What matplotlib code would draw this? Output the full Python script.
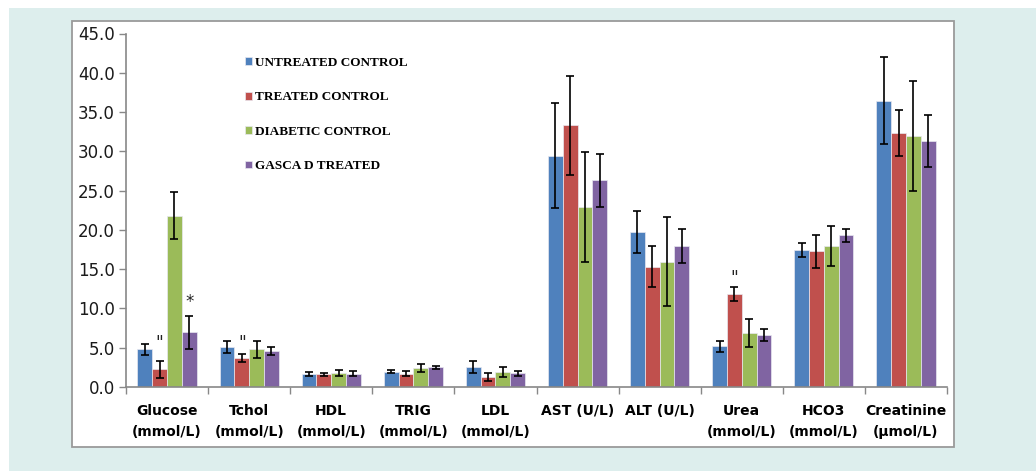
import numpy as np
import matplotlib.pyplot as plt
from matplotlib.patches import Rectangle

categories = ['Glucose\n(mmol/L)', 'Tchol\n(mmol/L)', 'HDL\n(mmol/L)', 'TRIG\n(mmol/L)',
              'LDL\n(mmol/L)', 'AST (U/L)', 'ALT (U/L)', 'Urea\n(mmol/L)',
              'HCO3\n(mmol/L)', 'Creatinine\n(µmol/L)']
series = ['UNTREATED CONTROL', 'TREATED CONTROL', 'DIABETIC CONTROL', 'GASCA D TREATED']
untreated = [4.8, 5.05, 1.65, 1.95, 2.55, 29.45, 19.75, 5.2, 17.45, 36.45]
untreated_err = [0.7, 0.75, 0.3, 0.2, 0.8, 6.7, 2.7, 0.7, 0.9, 5.5]
treated = [2.25, 3.7, 1.6, 1.7, 1.27, 33.3, 15.3, 11.85, 17.3, 32.3]
treated_err = [1.1, 0.5, 0.2, 0.35, 0.55, 6.3, 2.6, 0.9, 2.1, 2.9]
diabetic = [21.8, 4.8, 1.78, 2.38, 1.9, 22.95, 15.95, 6.85, 17.95, 31.95]
diabetic_err = [3.0, 1.1, 0.4, 0.5, 0.6, 7.0, 5.7, 1.8, 2.5, 7.0]
gasca = [7.0, 4.6, 1.7, 2.5, 1.75, 26.3, 17.95, 6.6, 19.3, 31.3]
gasca_err = [2.1, 0.55, 0.3, 0.2, 0.3, 3.4, 2.2, 0.8, 0.85, 3.3]

# significance marks: category index, series index, symbol, height
mark_cat = [0, 1, 7, 0]
mark_ser = [1, 1, 1, 3]
mark_sym = ['"', '"', '"', '*']
mark_y = [5.6, 5.6, 13.9, 10.8]

colors = ['#4f81bd', '#c0504d', '#9bbb59', '#8064a2']
values = [untreated, treated, diabetic, gasca]
errors = [untreated_err, treated_err, diabetic_err, gasca_err]

fig = plt.figure(figsize=(10.36, 4.71), dpi=100)
fig.patches.append(Rectangle((9 / 1036, 0), 1, 463 / 471, transform=fig.transFigure,
                             facecolor='#ddeeed', edgecolor='none', zorder=-2))
fig.patches.append(Rectangle((72 / 1036, 24 / 471), 882 / 1036, 426 / 471,
                             transform=fig.transFigure, facecolor='white',
                             edgecolor='#9a9a9a', lw=1.3, zorder=-1))

ax = fig.add_axes([126 / 1036, 84 / 471, 821 / 1036, 353.5 / 471])
ax.set_facecolor('none')

x = np.arange(len(categories))
w = 0.18
for i in range(4):
    pos = x + (i - 1.5) * w
    ax.bar(pos, values[i], w, color=colors[i], edgecolor='#e8e8f0', linewidth=0.5,
           label=series[i], zorder=2)
    ax.errorbar(pos, values[i], yerr=errors[i], fmt='none', ecolor='black',
                elinewidth=1.2, capsize=3.2, capthick=1.2, zorder=3)

for c, s, sym, yy in zip(mark_cat, mark_ser, mark_sym, mark_y):
    ax.text(c + (s - 1.5) * w, yy, sym, ha='center', va='center', fontsize=12,
            color='#222222')

ax.set_xlim(-0.5, len(categories) - 0.5)
ax.set_ylim(0, 45)
ax.set_yticks(np.arange(0, 46, 5))
ax.set_yticklabels(['%.1f' % v for v in np.arange(0, 46, 5)], fontsize=12, color='#1a1a1a')
ax.set_xticks(x)
ax.set_xticklabels(categories, fontsize=10, fontweight='bold', linespacing=1.7)
ax.set_xticks(np.arange(-0.5, len(categories)), minor=True)
ax.tick_params(axis='x', which='major', length=0, pad=12)
ax.tick_params(axis='x', which='minor', length=5, color='#888888', width=1)
ax.tick_params(axis='y', length=5, color='#888888', width=1, pad=3)
for side in ['top', 'right']:
    ax.spines[side].set_visible(False)
for side in ['left', 'bottom']:
    ax.spines[side].set_color('#888888')
    ax.spines[side].set_linewidth(1.2)

ax.legend(loc='upper left', bbox_to_anchor=(233 / 1036, 1 - 45 / 471),
          bbox_transform=fig.transFigure, frameon=False,
          prop={'family': 'Liberation Serif', 'weight': 'bold', 'size': 9.5},
          handlelength=0.55, handleheight=0.55, handletextpad=0.25, labelspacing=1.7)

plt.savefig('out.png', dpi=100)
